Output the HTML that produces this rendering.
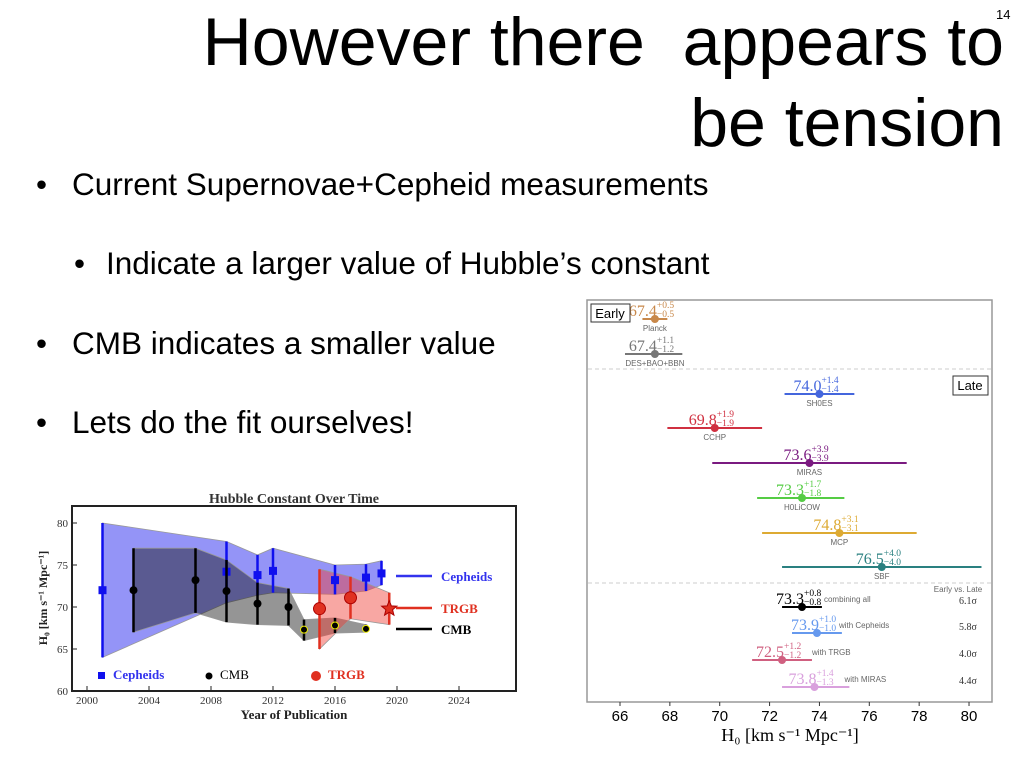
<!DOCTYPE html>
<html><head><meta charset="utf-8">
<style>
body{margin:0;width:1024px;height:768px;background:#fff;position:relative;overflow:hidden;font-family:"Liberation Sans",sans-serif}
.t{position:absolute;right:20px;font-size:68px;line-height:81px;color:#000;text-align:right;white-space:pre}
.b{position:absolute;font-size:31.5px;color:#000;white-space:nowrap}
svg{position:absolute;left:0;top:0}
</style></head><body>
<div class="t" style="top:2px">However there  appears to<br>be tension</div>
<div style="position:absolute;left:996px;top:7px;font-size:13px">14</div>
<div class="b" style="left:36px;top:166px"><span style="position:absolute;left:0">•</span><span style="position:absolute;left:36px">Current Supernovae+Cepheid measurements</span></div>
<div class="b" style="left:74px;top:245px"><span style="position:absolute;left:0">•</span><span style="position:absolute;left:32px">Indicate a larger value of Hubble’s constant</span></div>
<div class="b" style="left:36px;top:325px"><span style="position:absolute;left:0">•</span><span style="position:absolute;left:36px">CMB indicates a smaller value</span></div>
<div class="b" style="left:36px;top:404px"><span style="position:absolute;left:0">•</span><span style="position:absolute;left:36px">Lets do the fit ourselves!</span></div>
<svg id="s" width="1024" height="768"></svg>
<script>
// ---- left chart data ----
const cephYears=[2001,2009,2011,2012,2016,2018,2019];
const cephVals=[72,74.2,73.8,74.3,73.2,73.5,74.0];
const cephHi=[80,77.8,76.2,77,75,75.1,75.5];
const cephLo=[64,70.5,71.4,71.7,71.5,71.9,72.6];
const cmbYears=[2003,2007,2009,2011,2013,2014,2016,2018];
const cmbVals=[72,73.2,71.9,70.4,70,67.3,67.8,67.4];
const cmbHi=[77,77,75.6,72.9,72.2,68.5,68.7,67.9];
const cmbLo=[67,69.3,68.2,67.9,67.8,66,66.9,67];
const trgbYears=[2015,2017,2019.5];
const trgbVals=[69.8,71.1,69.8];
const trgbHi=[74.5,73.6,71.7];
const trgbLo=[65,68.6,67.9];
const xTicks=[2000,2004,2008,2012,2016,2020,2024];
const yTicks=[60,65,70,75,80];
// ---- right chart data ----
const rNames=["Planck","DES+BAO+BBN","SH0ES","CCHP","MIRAS","H0LiCOW","MCP","SBF","combining all","with Cepheids","with TRGB","with MIRAS"];
const rVals=[67.4,67.4,74.0,69.8,73.6,73.3,74.8,76.5,73.3,73.9,72.5,73.8];
const rPlus=[0.5,1.1,1.4,1.9,3.9,1.7,3.1,4.0,0.8,1.0,1.2,1.4];
const rMinus=[0.5,1.2,1.4,1.9,3.9,1.8,3.1,4.0,0.8,1.0,1.2,1.3];
const rColors=["#c8884a","#777","#4466dd","#d03040","#7a1a80","#55cc44","#ddaa33","#2a8080","#000","#6699ee","#d06080","#d9a0dd"];
const sigmas=["6.1σ","5.8σ","4.0σ","4.4σ"];
const rTicks=[66,68,70,72,74,76,78,80];

const S=document.getElementById('s');const NS='http://www.w3.org/2000/svg';
function el(t,a,txt){const e=document.createElementNS(NS,t);for(const k in a)e.setAttribute(k,a[k]);if(txt!=null)e.textContent=txt;S.appendChild(e);return e;}
const lx=y=>87+(y-2000)*15.5, ly=v=>691-(v-60)*8.4;
let e;
e=el('rect',{x:72,y:506,width:444,height:185,fill:'#fff',stroke:'#222','stroke-width':2});

e=el('text',{x:294,y:503,'text-anchor':'middle','font-family':'Liberation Serif','font-weight':'bold','font-size':14,fill:'#333'},'Hubble Constant Over Time');

function band(ys,hi,lo,fill,name){let p=ys.map((y,i)=>lx(y)+','+ly(hi[i])).concat(ys.map((y,i)=>lx(y)+','+ly(lo[i])).reverse());const b=el('polygon',{points:p.join(' '),fill:fill,stroke:'#999','stroke-width':0.8});}
band(cephYears,cephHi,cephLo,'rgba(60,60,240,0.55)','cepheid-band');
band(cmbYears,cmbHi,cmbLo,'rgba(20,20,20,0.45)','cmb-band');
band(trgbYears,trgbHi,trgbLo,'rgba(240,60,50,0.45)','trgb-band');
function bars(ys,v,hi,lo,col,kind,name){ys.forEach((y,i)=>{const l=el('line',{x1:lx(y),x2:lx(y),y1:ly(hi[i]),y2:ly(lo[i]),stroke:col,'stroke-width':2.5});let m;
if(kind=='sq')m=el('rect',{x:lx(y)-4,y:ly(v[i])-4,width:8,height:8,fill:col});
else if(kind=='star'){const cx=lx(y),cy=ly(v[i]);let pts=[];for(let k=0;k<10;k++){const r=k%2?3.5:8,a=-Math.PI/2+k*Math.PI/5;pts.push((cx+r*Math.cos(a))+','+(cy+r*Math.sin(a)));}m=el('polygon',{points:pts.join(' '),fill:col,stroke:'#a00'});}
else m=el('circle',{cx:lx(y),cy:ly(v[i]),r:kind=='big'?6:(v[i]<68.5?3.5:4),fill:col,stroke:kind=='big'?'#a00':(v[i]<68.5?'#ee0':'none')});
});}
bars(cephYears,cephVals,cephHi,cephLo,'#1010ee','sq','cepheid');
bars(cmbYears,cmbVals,cmbHi,cmbLo,'#000','c','cmb');
bars(trgbYears.slice(0,2),trgbVals,trgbHi,trgbLo,'#e03020','big','trgb');
bars([trgbYears[2]],[trgbVals[2]],[trgbHi[2]],[trgbLo[2]],'#e03020','star','trgb-latest');
xTicks.forEach(t=>{el('line',{x1:lx(t),x2:lx(t),y1:691,y2:686,stroke:'#222'});e=el('text',{x:lx(t),y:704,'text-anchor':'middle','font-family':'Liberation Serif','font-size':11,fill:'#333'},t);});
yTicks.forEach(t=>{el('line',{x1:72,x2:77,y1:ly(t),y2:ly(t),stroke:'#222'});e=el('text',{x:68,y:ly(t)+4,'text-anchor':'end','font-family':'Liberation Serif','font-size':11,fill:'#333'},t);});
e=el('text',{x:294,y:719,'text-anchor':'middle','font-family':'Liberation Serif','font-weight':'bold','font-size':13,fill:'#222'},'Year of Publication');
e=el('text',{x:0,y:0,transform:'translate(47,598) rotate(-90)','text-anchor':'middle','font-family':'Liberation Serif','font-weight':'bold','font-size':12,fill:'#222'},'H₀ [km s⁻¹ Mpc⁻¹]');
[['Cepheids','#3333ee',576],['TRGB','#e03020',608],['CMB','#000',629]].forEach(a=>{el('line',{x1:396,x2:432,y1:a[2],y2:a[2],stroke:a[1],'stroke-width':2.5});e=el('text',{x:441,y:a[2]+5,'font-family':'Liberation Serif','font-weight':'bold','font-size':13,fill:a[1]},a[0]);});
el('rect',{x:98,y:672,width:7,height:7,fill:'#1010ee'});e=el('text',{x:113,y:679,'font-family':'Liberation Serif','font-weight':'bold','font-size':13,fill:'#3333ee'},'Cepheids');
el('circle',{cx:209,cy:676,r:3.5,fill:'#000'});e=el('text',{x:220,y:679,'font-family':'Liberation Serif','font-size':13,fill:'#000'},'CMB');
el('circle',{cx:316,cy:676,r:5,fill:'#e03020'});e=el('text',{x:328,y:679,'font-family':'Liberation Serif','font-weight':'bold','font-size':13,fill:'#e03020'},'TRGB');

// right chart
const rx=v=>620+(v-66)*24.93;
const rowY=[319,354,394,428,463,498,533,567,607,633,660,687];
e=el('rect',{x:587,y:300,width:405,height:402,fill:'none',stroke:'#999','stroke-width':1.5});
[369,583].forEach(y=>el('line',{x1:588,x2:991,y1:y,y2:y,stroke:'#ccc','stroke-dasharray':'4,3'}));
rNames.forEach((n,i)=>{const y=rowY[i],c=rColors[i],comb=i>=8;
 const l=el('line',{x1:rx(rVals[i]-rMinus[i]),x2:rx(rVals[i]+rPlus[i]),y1:y,y2:y,stroke:c,'stroke-width':2});
 const d=el('circle',{cx:rx(rVals[i]),cy:y,r:4,fill:c});
 const tx=rx(rVals[i]);
 e=el('text',{x:tx+2,y:y-3,'text-anchor':'end','font-family':'Liberation Serif','font-size':16,fill:c},rVals[i].toFixed(1));
 el('text',{x:tx+2,y:y-11,'font-family':'Liberation Serif','font-size':9.5,fill:c},'+'+rPlus[i].toFixed(1));
 el('text',{x:tx+2,y:y-2,'font-family':'Liberation Serif','font-size':9.5,fill:c},'−'+rMinus[i].toFixed(1));
 if(!comb){e=el('text',{x:tx,y:y+12,'text-anchor':'middle','font-size':8,fill:'#666'},n);}
 else{e=el('text',{x:tx+(i==10||i==11?30:22),y:y-5,'font-size':8,fill:'#666'},n);
  const s=el('text',{x:968,y:y-3,'text-anchor':'middle','font-family':'Liberation Serif','font-size':10,fill:'#333'},sigmas[i-8]);}
 });
el('text',{x:958,y:592,'text-anchor':'middle','font-size':8,fill:'#666'},'Early vs. Late');
el('rect',{x:591,y:304,width:39,height:18,fill:'#fff',stroke:'#333'});e=el('text',{x:610,y:318,'text-anchor':'middle','font-size':13,fill:'#000'},'Early');
el('rect',{x:953,y:376,width:35,height:19,fill:'#fff',stroke:'#333'});e=el('text',{x:970,y:390,'text-anchor':'middle','font-size':13,fill:'#000'},'Late');
rTicks.forEach(t=>{el('line',{x1:rx(t),x2:rx(t),y1:702,y2:706,stroke:'#333'});e=el('text',{x:rx(t),y:721,'text-anchor':'middle','font-size':15,fill:'#000'},t);});
e=el('text',{x:790,y:741,'text-anchor':'middle','font-family':'Liberation Serif','font-size':18,fill:'#000'},'H₀ [km s⁻¹ Mpc⁻¹]');
</script>
</body></html>
